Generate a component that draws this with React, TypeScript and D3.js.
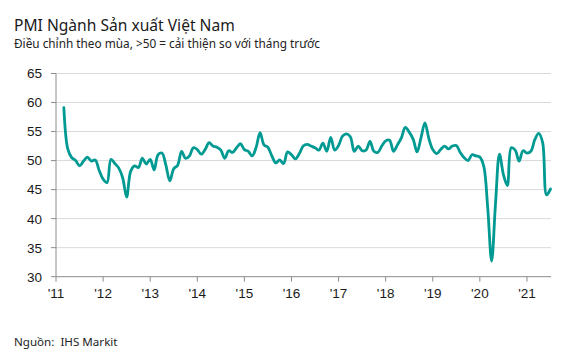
import { useEffect, useRef } from 'react';
import * as d3 from 'd3';

// Vietnam manufacturing PMI, monthly (first reading Mar 2011)
const startYear = 2011;
const startMonth = 2; // March, zero-based
const pmi2011 = [59.1, 52.0, 50.5, 50.0, 49.1, 49.9, 50.6, 49.9, 50.1, 48.3];
const pmi2012 = [46.8, 46.2, 50.2, 49.5, 48.7, 47.0, 43.7, 48.1, 49.1, 48.8, 50.4, 49.4];
const pmi2013 = [50.2, 48.4, 51.0, 51.3, 49.2, 46.5, 48.6, 49.2, 51.6, 50.4, 50.8, 52.2];
const pmi2014 = [51.9, 51.1, 51.9, 53.1, 52.5, 52.3, 51.8, 50.4, 51.7, 51.4, 52.2, 52.9];
const pmi2015 = [51.9, 51.6, 50.8, 52.3, 54.8, 52.7, 52.3, 50.8, 49.6, 50.1, 49.5, 51.5];
const pmi2016 = [51.0, 50.3, 51.2, 52.5, 52.8, 52.5, 52.2, 51.8, 53.0, 51.6, 54.0, 51.8];
const pmi2017 = [52.6, 54.2, 54.6, 54.1, 51.6, 52.5, 51.7, 51.8, 53.3, 51.6, 51.4, 52.5];
const pmi2018 = [53.4, 53.5, 51.6, 52.7, 53.9, 55.7, 54.9, 53.7, 51.5, 53.9, 56.5, 53.8];
const pmi2019 = [51.9, 51.2, 51.9, 52.5, 52.0, 52.5, 52.6, 51.4, 50.5, 50.0, 51.0, 50.8];
const pmi2020 = [50.6, 49.0, 41.9, 32.7, 42.7, 51.1, 47.6, 45.7, 52.2, 51.8, 49.9, 51.7];
const pmi2021 = [51.3, 51.6, 53.6, 54.7, 53.1, 44.1, 45.1];

const yTicks = [30, 35, 40, 45, 50, 55, 60, 65];
const yearTicks = [2011, 2012, 2013, 2014, 2015, 2016, 2017, 2018, 2019, 2020, 2021];
const yearLabels = ["'11", "'12", "'13", "'14", "'15", "'16", "'17", "'18", "'19", "'20", "'21"];

const title = 'PMI Ngành Sản xuất Việt Nam';
const subtitle = 'Điều chỉnh theo mùa, >50 = cải thiện so với tháng trước';
const source = 'Nguồn:  IHS Markit';

const W = 582;
const H = 363;

export default function App() {
  const ref = useRef<HTMLDivElement>(null);

  useEffect(() => {
    const container = ref.current;
    if (!container) return;
    d3.select(container).select('svg').remove();

    const values = [
      ...pmi2011, ...pmi2012, ...pmi2013, ...pmi2014, ...pmi2015, ...pmi2016,
      ...pmi2017, ...pmi2018, ...pmi2019, ...pmi2020, ...pmi2021,
    ];
    const data = values.map((v, i) => ({ t: startYear + (startMonth + i) / 12, v }));

    const svg = d3.select(container)
      .append('svg')
      .attr('width', W)
      .attr('height', H)
      .attr('viewBox', `0 0 ${W} ${H}`)
      .style('display', 'block')
      .style('background', '#fff');

    const x = d3.scaleLinear()
      .domain([startYear, data[data.length - 1].t])
      .range([56, 550.5]);
    const y = d3.scaleLinear().domain([30, 65]).range([276.7, 73.5]);

    const sans = '"Noto Sans", "Open Sans", sans-serif';
    const arial = '"Liberation Sans", Arial, sans-serif';

    // Titles
    svg.append('text')
      .attr('x', 14).attr('y', 31)
      .attr('font-family', sans).attr('font-size', 15.6)
      .attr('fill', '#1a1a1a')
      .text(title);
    svg.append('text')
      .attr('x', 14).attr('y', 48)
      .attr('font-family', sans).attr('font-size', 11.8)
      .attr('fill', '#222')
      .text(subtitle);

    // Gridlines
    svg.append('g')
      .selectAll('line')
      .data(yTicks.filter((d) => d > 30))
      .join('line')
      .attr('x1', 56).attr('x2', 551)
      .attr('y1', (d) => y(d)).attr('y2', (d) => y(d))
      .attr('stroke', '#d9d9d9').attr('stroke-width', 1);

    // Y axis
    const yAxis = svg.append('g');
    yAxis.append('line')
      .attr('x1', 56).attr('x2', 56)
      .attr('y1', y(65)).attr('y2', y(30))
      .attr('stroke', '#8c8c8c');
    yAxis.selectAll('line.tick')
      .data(yTicks)
      .join('line')
      .attr('class', 'tick')
      .attr('x1', 51).attr('x2', 56)
      .attr('y1', (d) => y(d)).attr('y2', (d) => y(d))
      .attr('stroke', '#8c8c8c');
    yAxis.selectAll('text')
      .data(yTicks)
      .join('text')
      .attr('x', 42).attr('y', (d) => y(d))
      .attr('dy', '0.36em')
      .attr('text-anchor', 'end')
      .attr('font-family', arial).attr('font-size', 13.5)
      .attr('fill', '#1a1a1a')
      .text((d) => d);

    // X axis
    const xAxis = svg.append('g');
    xAxis.append('line')
      .attr('x1', 56).attr('x2', 551)
      .attr('y1', y(30)).attr('y2', y(30))
      .attr('stroke', '#8c8c8c');
    xAxis.selectAll('line.tick')
      .data(yearTicks)
      .join('line')
      .attr('class', 'tick')
      .attr('x1', (d) => x(d)).attr('x2', (d) => x(d))
      .attr('y1', y(30)).attr('y2', y(30) + 5)
      .attr('stroke', '#8c8c8c');
    xAxis.selectAll('text')
      .data(yearTicks)
      .join('text')
      .attr('x', (d) => x(d)).attr('y', 298)
      .attr('text-anchor', 'middle')
      .attr('font-family', arial).attr('font-size', 13.5)
      .attr('fill', '#1a1a1a')
      .text((_, i) => yearLabels[i]);

    // PMI line
    const line = d3.line<{ t: number; v: number }>()
      .x((d) => x(d.t))
      .y((d) => y(d.v))
      .curve(d3.curveCatmullRom.alpha(0.5));
    svg.append('path')
      .datum(data)
      .attr('d', line)
      .attr('fill', 'none')
      .attr('stroke', '#009a93')
      .attr('stroke-width', 2.8)
      .attr('stroke-linejoin', 'round')
      .attr('stroke-linecap', 'round');

    // Source
    svg.append('text')
      .attr('x', 14).attr('y', 346)
      .attr('font-family', sans).attr('font-size', 11.6)
      .attr('fill', '#222')
      .style('white-space', 'pre')
      .text(source);

    return () => {
      d3.select(container).select('svg').remove();
    };
  }, []);

  return <div ref={ref} style={{ position: 'absolute', left: 0, top: 0 }} />;
}
